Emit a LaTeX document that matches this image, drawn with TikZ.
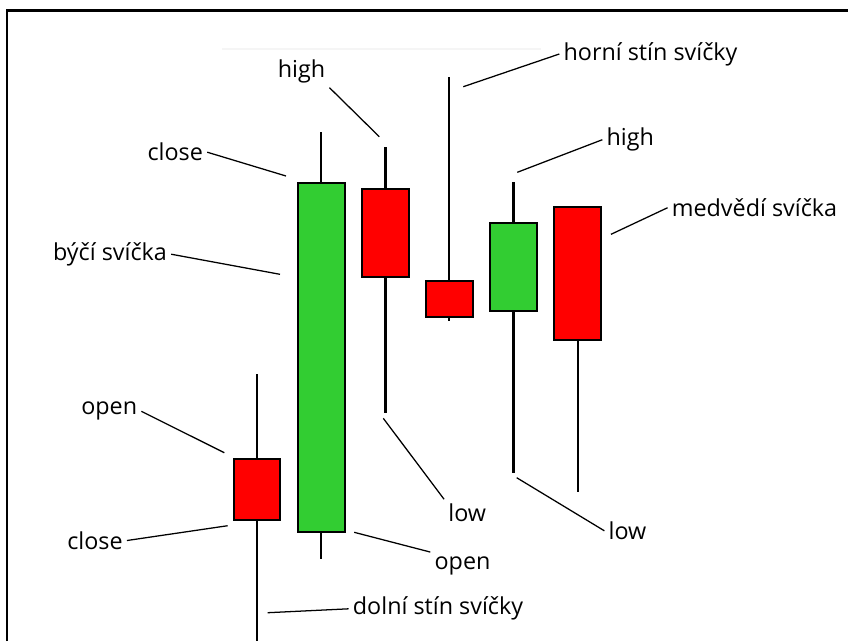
\documentclass[tikz,border=0pt]{standalone}
\usepackage{fontspec}
\setmainfont{Open Sans}
\usepackage{tikz}

\definecolor{bullgreen}{RGB}{50,205,50}
\definecolor{bearred}{RGB}{255,0,0}

\begin{document}
\begin{tikzpicture}[x=0.025cm,y=-0.025cm]
\tikzstyle{candle}=[draw=black,line width=1.4pt,minimum width=1.1625cm,inner sep=0pt]
\tikzstyle{bull}=[candle,fill=bullgreen]
\tikzstyle{bear}=[candle,fill=bearred]
\tikzstyle{wick}=[line width=1.5pt]
\tikzstyle{lbl}=[font=\fontsize{16.6}{19}\selectfont,inner sep=0.1cm]
\tikzstyle{leader}=[line width=0.9pt]

\useasboundingbox (0,0) rectangle (848,641);
\draw[line width=2.1pt] (7,641) -- (7,10.5) -- (848,10.5);
\draw[black!4,line width=1.4pt] (222,49) -- (541,49);

% candle bodies
\node[bear,minimum height=1.525cm] (c1) at (257,489.5) {};
\node[bull,minimum height=8.72cm] (c2) at (321.3,357.35) {};
\node[bear,minimum height=2.21cm] (c3) at (385.5,233.15) {};
\node[bear,minimum height=0.91cm] (c4) at (449.3,299.15) {};
\node[bull,minimum height=2.215cm] (c5) at (513.5,267) {};
\node[bear,minimum height=3.32cm] (c6) at (577.7,273.35) {};

% wick ends
\coordinate (h1) at (257,374);
\coordinate (l1) at (257,641);
\coordinate (h2) at (321.3,131.7);
\coordinate (l2) at (321.3,559.3);
\coordinate (h3) at (385.5,147.3);
\coordinate (l3) at (385.5,412.7);
\coordinate (h4) at (449.3,77.3);
\coordinate (l4) at (449.3,321);
\coordinate (h5) at (513.5,181.7);
\coordinate (l5) at (513.5,473.3);
\coordinate (l6) at (577.7,491.7);

\path[wick]
(c1) edge (h1) (c1) edge (l1)
(c2) edge (h2) (c2) edge (l2)
(c3) edge (h3) (c3) edge (l3)
(c4) edge (h4) (c4) edge (l4)
(c5) edge (h5) (c5) edge (l5)
(c6) edge (l6);

% labels
\node[lbl] (closeA) at (175.3,152.2) {close};
\node[lbl] (byci) at (110,254.2) {býčí svíčka};
\node[lbl] (highA) at (301.5,71.7) {high};
\node[lbl] (horni) at (650.5,54) {horní stín svíčky};
\node[lbl] (highB) at (630.3,139.7) {high};
\node[lbl] (medv) at (754.5,207.7) {medvědí svíčka};
\node[lbl] (openA) at (109.2,411.3) {open};
\node[lbl] (closeB) at (95,540.5) {close};
\node[lbl] (openB) at (462.5,565.5) {open};
\node[lbl] (dolni) at (438,608.8) {dolní stín svíčky};
\node[lbl] (lowA) at (467.2,512.5) {low};
\node[lbl] (lowB) at (627.5,530.8) {low};

% leader ends
\coordinate (pCloseA) at (286,176);
\coordinate (pByci) at (280,274.3);
\coordinate (pHighA) at (379.3,136.7);
\coordinate (pHorni) at (463.3,86.7);
\coordinate (pHighB) at (517.3,172.3);
\coordinate (pMedv) at (611,234.3);
\coordinate (pOpenA) at (224.3,452.7);
\coordinate (pCloseB) at (227.7,525.7);
\coordinate (pOpenB) at (354.2,532.3);
\coordinate (pDolni) at (267.7,612.7);
\coordinate (pLowA) at (383.3,418.3);
\coordinate (pLowB) at (516.7,477.7);

\path[leader]
(closeA.east) edge (pCloseA)
(byci.east) edge (pByci)
(highA.south east) edge (pHighA)
(horni.west) edge (pHorni)
(highB.west) edge (pHighB)
(medv.west) edge (pMedv)
(openA.east) edge (pOpenA)
(closeB.east) edge (pCloseB)
(openB.north west) edge (pOpenB)
(dolni.west) edge (pDolni)
(lowA.north west) edge (pLowA)
(lowB.west) edge (pLowB);

\end{tikzpicture}
\end{document}
